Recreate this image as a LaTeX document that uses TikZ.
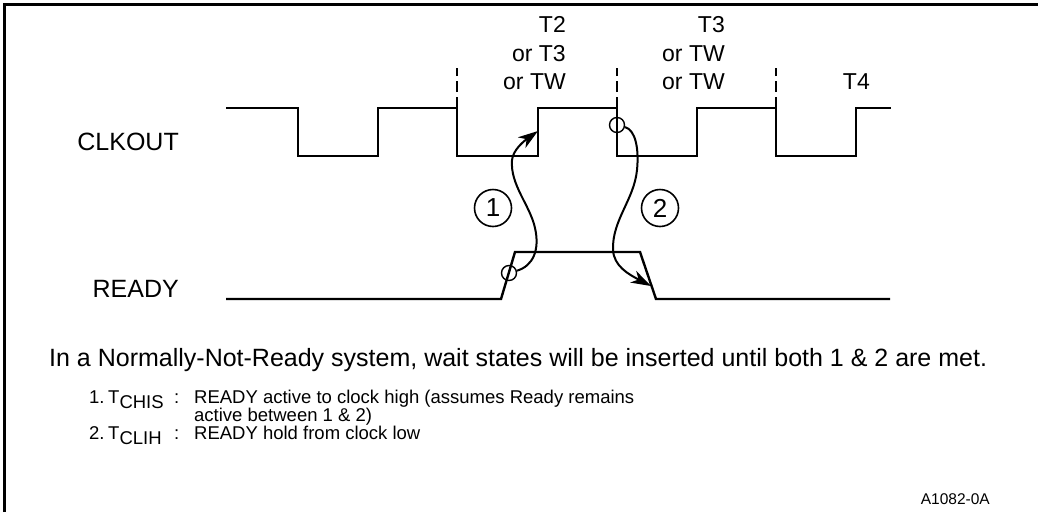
\documentclass[tikz,border=0pt]{standalone}
\usepackage{fontspec}
\setmainfont{Liberation Sans}
\usetikzlibrary{arrows.meta}
\newcommand{\fsz}[1]{\fontsize{#1}{#1}\selectfont}
\newcommand{\tsub}[1]{T\raisebox{-5pt}{#1}}

\begin{document}
\begin{tikzpicture}[x=1pt,y=-1pt,
  lbl/.style={anchor=base east, inner sep=0pt, font=\fsz{25}},
  tlbl/.style={anchor=base east, inner sep=0pt, font=\fsz{23}},
  note/.style={anchor=base west, inner sep=0pt, font=\fsz{18.5}},
  wave/.style={line width=2.4pt},
  tick/.style={line width=1.4pt, dash pattern=on 11pt off 5pt},
  edgemark/.style={circle, draw, line width=1.4pt, minimum size=15pt, inner sep=0pt},
  numcirc/.style={circle, draw, line width=1.6pt, minimum size=37pt, inner sep=0pt, font=\fsz{26}},
  timarrow/.style={line width=2pt, -{Stealth[length=20pt,width=13pt,inset=6pt]}}]
\useasboundingbox (0,0) rectangle (1038,512);
\draw[line width=3.5pt] (4.5,512) -- (4.5,4.5) -- (1038,4.5);
\node[lbl] (clklbl) at (179,150) {CLKOUT};
\node[lbl] (rdylbl) at (179,297) {READY};
\node[tlbl] (tA1) at (566,32) {T2};
\node[tlbl] (tA2) at (566,61) {or T3};
\node[tlbl] (tA3) at (566,89) {or TW};
\node[tlbl] (tB1) at (725,32) {T3};
\node[tlbl] (tB2) at (725,61) {or TW};
\node[tlbl] (tB3) at (725,89) {or TW};
\node[tlbl] (tC) at (870,89) {T4};
\draw[wave] (226,108) -| (298,156) -| (378,108) -| (457,156) -| (538,108) -| (617,156) -| (697,108) -| (776,156) -| (856,108) -- (891,108);
\draw[wave] (226,299) -- (501,299) -- (515,252) -- (640,252) -- (656,299) -- (890,299);
\draw[tick] (457,108) -- (457,68);
\draw[tick] (617,108) -- (617,68);
\draw[tick] (776,108) -- (776,68);
\node[edgemark] (clkmark) at (617,125) {};
\node[edgemark] (rdymark) at (509,273) {};
\coordinate (clkrise) at (538,131);
\coordinate (rdyfall) at (651,286);
\node[numcirc] (stepA) at (493,208) {1};
\node[numcirc] (stepB) at (660,208) {2};
\draw[timarrow] (rdymark) .. controls (533,266) and (540,250) .. (535,228) .. controls (530,205) and (510,185) .. (512,160) .. controls (513,150) and (524,141) .. (clkrise);
\draw[timarrow] (clkmark) .. controls (636,130) and (639,150) .. (637,170) .. controls (634,200) and (612,220) .. (613,250) .. controls (614,266) and (628,274) .. (rdyfall);
\node[anchor=base west, inner sep=0pt, font=\fsz{25}] (summary) at (49,366) {In a Normally-Not-Ready system, wait states will be inserted until both 1 \& 2 are met.};
\node[note] (n1num) at (89,403) {1.};
\node[note] (n1sym) at (108,403) {\tsub{CHIS}};
\node[note] (n1col) at (174,403) {:};
\node[note] (n1txt) at (194,403) {READY active to clock high (assumes Ready remains};
\node[note] (n1more) at (194,421) {active between 1 \& 2)};
\node[note] (n2num) at (89,439) {2.};
\node[note] (n2sym) at (108,439) {\tsub{CLIH}};
\node[note] (n2col) at (174,439) {:};
\node[note] (n2txt) at (194,439) {READY hold from clock low};
\node[anchor=base east, inner sep=0pt, font=\fsz{15.5}] (figid) at (990,504) {A1082-0A};
\end{tikzpicture}
\end{document}
